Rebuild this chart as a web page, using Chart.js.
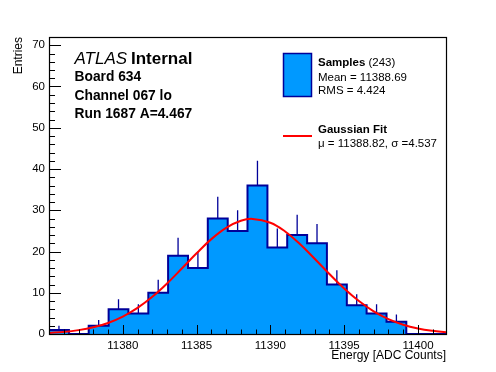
<!DOCTYPE html>
<html><head><meta charset="utf-8">
<script src="https://cdn.jsdelivr.net/npm/chart.js@4/dist/chart.umd.min.js"></script>
<style>html,body{margin:0;padding:0;background:#fff;}#wrap{width:496px;height:372px;}</style>
</head><body>
<div id="wrap"><canvas id="c" width="496" height="372"></canvas></div>
<script>
// ---- data ----
const binEdges = [11375.00, 11376.35, 11377.69, 11379.04, 11380.38, 11381.73, 11383.07, 11384.42, 11385.76, 11387.11,
                  11388.45, 11389.80, 11391.14, 11392.49, 11393.83, 11395.18, 11396.52, 11397.87, 11399.21, 11400.56, 11401.90];
const counts = [1, 0, 2, 6, 5, 10, 19, 16, 28, 25, 36, 21, 24, 22, 12, 7, 5, 3, 0, 0];
const countErrors = [1, 0, 1.41, 2.45, 2.24, 3.16, 4.36, 4, 5.29, 5, 6, 4.58, 4.90, 4.69, 3.46, 2.65, 2.24, 1.73, 0, 0];
const fitX = [11375, 11376, 11377, 11378, 11379, 11380, 11381, 11382, 11383, 11384, 11385, 11386, 11387, 11388, 11388.8,
              11390, 11391, 11392, 11393, 11394, 11395, 11396, 11397, 11398, 11399, 11400, 11401, 11401.9];
const fitY = [0.27, 0.51, 0.94, 1.62, 2.68, 4.22, 6.32, 9.01, 12.25, 15.87, 19.57, 23.00, 25.74, 27.45, 27.90,
              26.97, 24.86, 21.82, 18.25, 14.54, 11.03, 7.98, 5.49, 3.60, 2.25, 1.34, 0.76, 0.43];
const xRange = [11375.0, 11401.9];
const yRange = [0, 72];
const xTickValues = [11380, 11385, 11390, 11395, 11400];
const xTickLabels = ['11380', '11385', '11390', '11395', '11400'];
const yTickValues = [0, 10, 20, 30, 40, 50, 60, 70];
const yTickLabels = ['0', '10', '20', '30', '40', '50', '60', '70'];
const infoLines = ['Board 634', 'Channel 067 lo', 'Run 1687 A=4.467'];
const histLegend = ['Samples', ' (243)', 'Mean = 11388.69', 'RMS = 4.424'];
const fitLegend = ['Gaussian Fit', '\u03bc = 11388.82, \u03c3 =4.537'];

// ---- build library datasets ----
const FONT = '"Liberation Sans", Arial, Helvetica, sans-serif';
const histPoints = binEdges.map((e, i) => ({x: e, y: counts[Math.min(i, counts.length - 1)]}));
const errPoints = [];
counts.forEach((c, i) => {
  if (countErrors[i] > 0) {
    const xc = (binEdges[i] + binEdges[i + 1]) / 2;
    errPoints.push({x: xc, y: c}, {x: xc, y: c + countErrors[i]}, {x: xc, y: null});
  }
});
const fitPoints = fitX.map((x, i) => ({x: x, y: fitY[i]}));

const HIST_FILL = '#0099ff', HIST_LINE = '#000099', FIT_LINE = '#ff0000';

const rootStyle = {
  id: 'rootStyle',
  afterDatasetsDraw(chart) {
    const ctx = chart.ctx, a = chart.chartArea, xs = chart.scales.x, ys = chart.scales.y;
    ctx.save();
    ctx.strokeStyle = '#000';
    ctx.lineWidth = 1;
    ctx.beginPath();
    for (let v = Math.ceil(xRange[0]); v < xRange[1]; v++) {
      const px = Math.round(xs.getPixelForValue(v)) + 0.5;
      if (px <= a.left + 1 || px >= a.right - 1) continue;
      const len = (v % 5 === 0) ? 9 : 4.5;
      ctx.moveTo(px, a.bottom); ctx.lineTo(px, a.bottom - len);
    }
    for (let v = yRange[0] + 2; v < yRange[1]; v += 2) {
      const py = Math.round(ys.getPixelForValue(v)) + 0.5;
      const len = (v % 10 === 0) ? 12 : 6;
      ctx.moveTo(a.left, py); ctx.lineTo(a.left + len, py);
    }
    ctx.stroke();
    ctx.lineWidth = 1.2;
    ctx.strokeRect(Math.round(a.left) + 0.5, Math.round(a.top) + 0.5, Math.round(a.right - a.left), Math.round(a.bottom - a.top));
    ctx.restore();
  },
  afterDraw(chart) {
    const ctx = chart.ctx;
    ctx.save();
    ctx.fillStyle = '#000';
    ctx.textBaseline = 'alphabetic';
    ctx.textAlign = 'left';
    // ATLAS label
    ctx.font = 'italic 17px ' + FONT;
    ctx.fillText('ATLAS', 74.5, 63.5);
    ctx.font = 'bold 17px ' + FONT;
    ctx.fillText('Internal', 131, 63.5);
    ctx.font = 'bold 13.8px ' + FONT;
    const base = [81, 99.5, 118];
    infoLines.forEach((t, i) => ctx.fillText(t, 74.5, base[i]));
    // legend
    const ds = chart.data.datasets;
    const hist = ds.find(d => d.label === 'Samples');
    const fit = ds.find(d => d.label === 'Gaussian Fit');
    ctx.fillStyle = hist.backgroundColor;
    ctx.fillRect(283.5, 53.5, 28, 43);
    ctx.strokeStyle = hist.borderColor;
    ctx.lineWidth = 1.5;
    ctx.strokeRect(283.5, 53.5, 28, 43);
    ctx.fillStyle = '#000';
    ctx.font = 'bold 11.5px ' + FONT;
    ctx.fillText(histLegend[0], 318, 65.5);
    const w = ctx.measureText(histLegend[0]).width;
    ctx.font = '11.5px ' + FONT;
    ctx.fillText(histLegend[1], 318 + w, 65.5);
    ctx.fillText(histLegend[2], 318, 80.5);
    ctx.fillText(histLegend[3], 318, 93.5);
    ctx.strokeStyle = fit.borderColor;
    ctx.lineWidth = 2;
    ctx.beginPath(); ctx.moveTo(283, 136); ctx.lineTo(312, 136); ctx.stroke();
    ctx.font = 'bold 11.5px ' + FONT;
    ctx.fillText(fitLegend[0], 318, 133);
    ctx.font = '11.5px ' + FONT;
    ctx.fillText(fitLegend[1], 318, 146.5);
    ctx.restore();
  }
};

new Chart(document.getElementById('c'), {
  type: 'line',
  data: {
    datasets: [
      {label: 'Gaussian Fit', data: fitPoints, borderColor: FIT_LINE, borderWidth: 2, pointRadius: 0, tension: 0.4, fill: false},
      {label: 'Errors', data: errPoints, borderColor: HIST_LINE, borderWidth: 1.3, pointRadius: 0, spanGaps: false, fill: false, tension: 0},
      {label: 'Samples', data: histPoints, borderColor: HIST_LINE, backgroundColor: HIST_FILL, borderWidth: 2, pointRadius: 0,
       stepped: true, fill: 'origin', tension: 0}
    ]
  },
  options: {
    responsive: false, animation: false, devicePixelRatio: 1,
    layout: {padding: {left: 0, top: 37, right: 50, bottom: 0}},
    plugins: {legend: {display: false}, tooltip: {enabled: false}, title: {display: false}},
    scales: {
      x: {
        type: 'linear', min: xRange[0], max: xRange[1],
        grid: {display: false, drawTicks: false}, border: {display: false},
        afterBuildTicks: s => { s.ticks = xTickValues.map(v => ({value: v})); },
        afterFit: s => { s.height = 38; },
        ticks: {padding: 5, maxRotation: 0, autoSkip: false, color: '#000', font: {size: 11.5, family: FONT},
                callback: v => { const k = xTickValues.indexOf(v); return k >= 0 ? xTickLabels[k] : ''; }},
        title: {display: true, text: 'Energy [ADC Counts]', align: 'end', color: '#000',
                font: {size: 12, family: FONT}, padding: {top: 0, bottom: 9}}
      },
      y: {
        type: 'linear', min: yRange[0], max: yRange[1],
        grid: {display: false, drawTicks: false}, border: {display: false},
        afterBuildTicks: s => { s.ticks = yTickValues.map(v => ({value: v})); },
        afterFit: s => { s.width = 49; },
        ticks: {padding: 4, autoSkip: false, color: '#000', font: {size: 11.5, family: FONT},
                callback: v => { const k = yTickValues.indexOf(v); return k >= 0 ? yTickLabels[k] : ''; }},
        title: {display: true, text: 'Entries', align: 'end', color: '#000',
                font: {size: 12, family: FONT}, padding: {top: 11, bottom: 0}}
      }
    }
  },
  plugins: [rootStyle]
});
</script>
</body></html>
